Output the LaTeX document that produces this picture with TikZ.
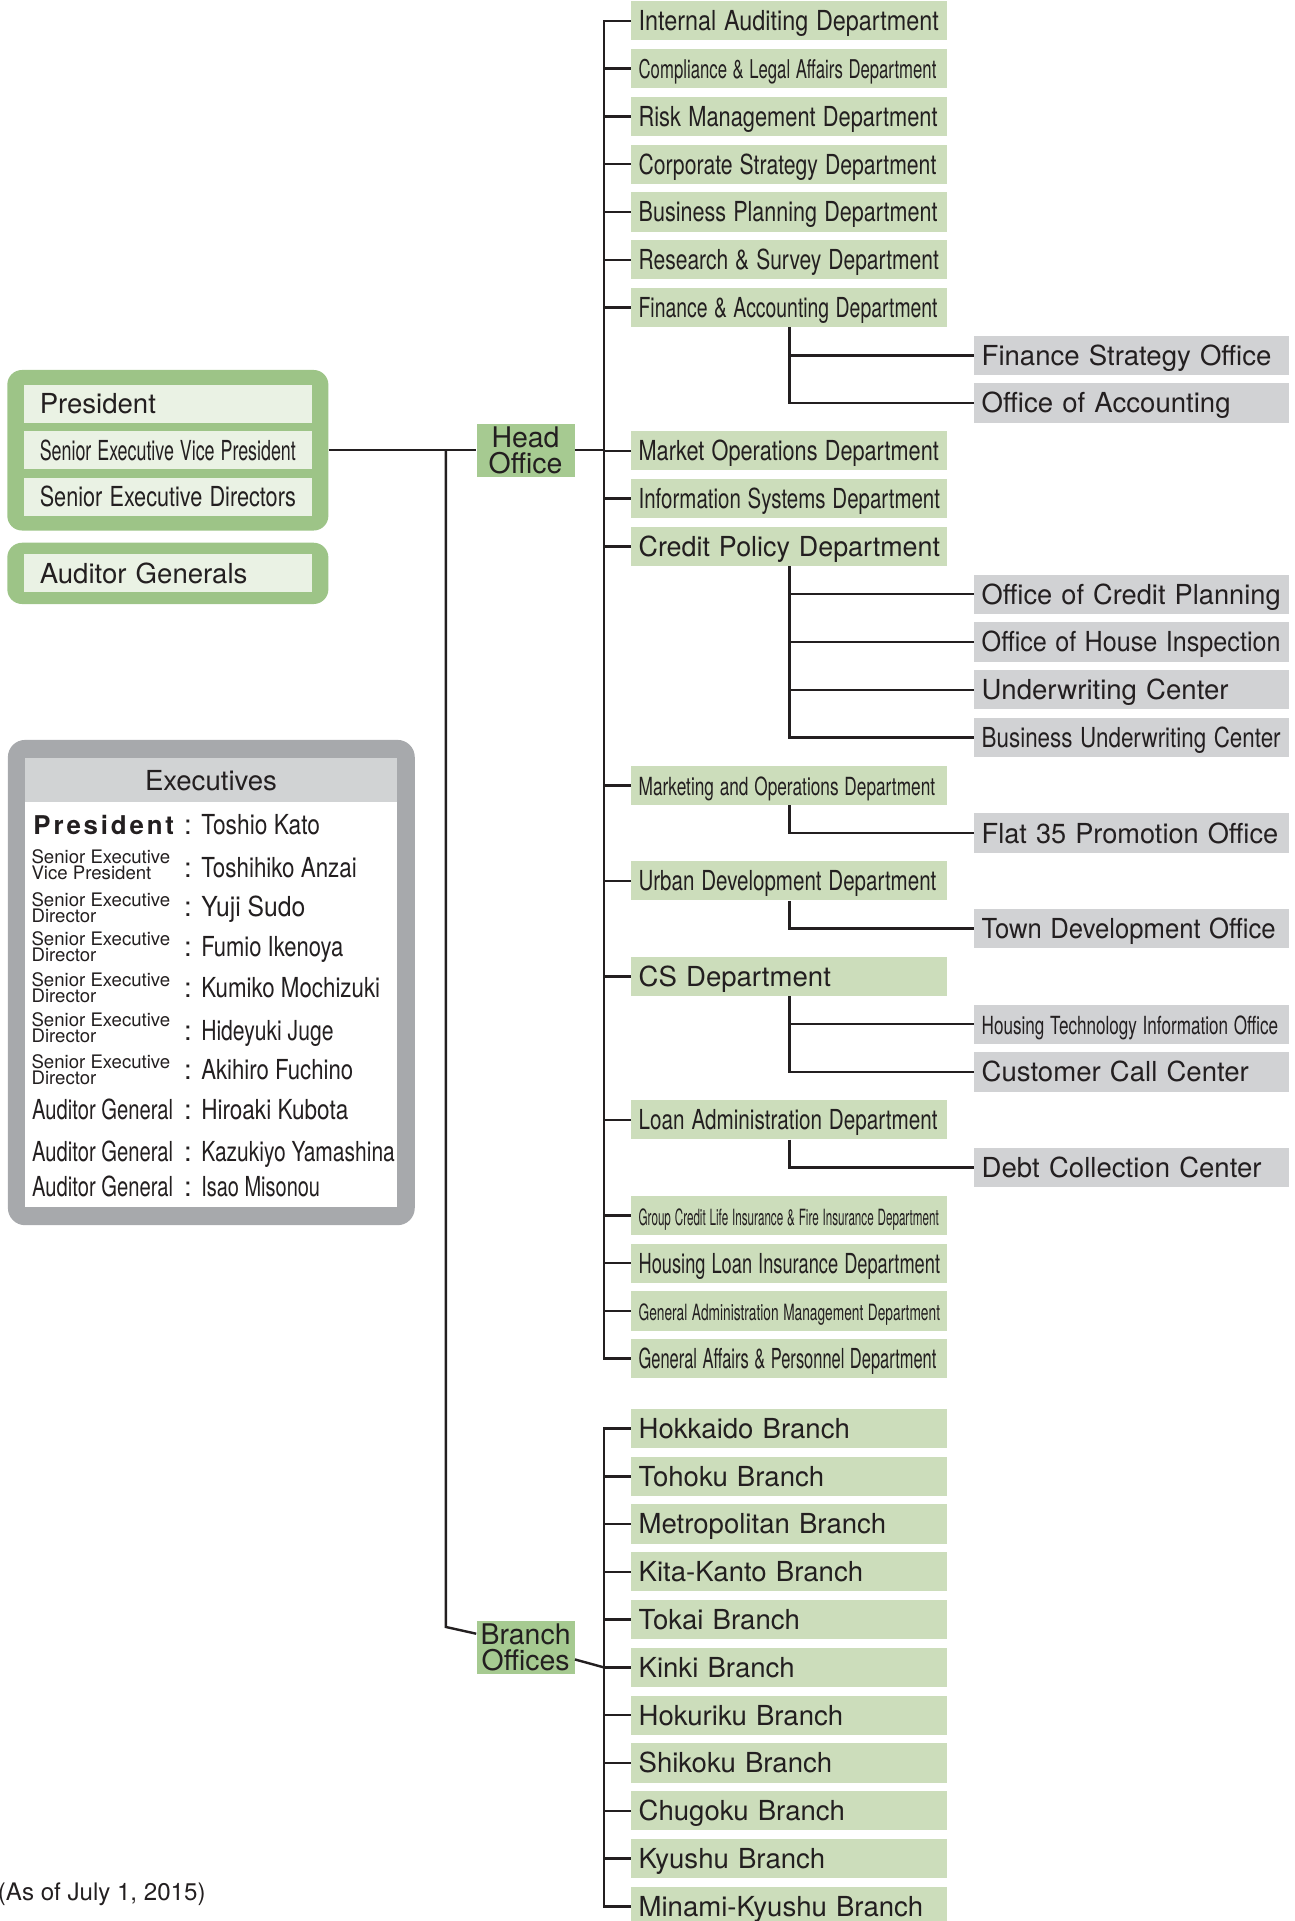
\documentclass[tikz,border=0pt]{standalone}
\usepackage{graphicx}
\usepackage{fontspec}
\setmainfont{TeX Gyre Heros}
\newfontfamily\spacedfont[LetterSpace=11]{TeX Gyre Heros}
\usetikzlibrary{calc}

\definecolor{ink}{HTML}{231F20}
\definecolor{deptgreen}{HTML}{CCDDBB}
\definecolor{hubgreen}{HTML}{A6CA91}
\definecolor{grpgreen}{HTML}{9DC487}
\definecolor{rowgreen}{HTML}{EAF2E4}
\definecolor{officegray}{HTML}{D1D2D4}
\definecolor{execgray}{HTML}{A7A9AC}
\definecolor{headgray}{HTML}{D1D3D4}

\newcommand\labfont{\fontsize{16}{18}\selectfont}
\newlength\fitlen
% squeeze a label to a width given in picture units
\newcommand\fitto[2]{\settowidth\fitlen{#2}\pgfmathsetmacro\fitfac{min(1,#1*0.7113/\fitlen)}\scalebox{\fitfac}[1]{#2}}

\tikzset{
  conn/.style={draw=ink, line width=1.4pt},
  unitbox/.style={anchor=west, inner xsep=0.15cm, inner ysep=0pt, minimum height=0.8cm,
    text width=6.15cm, align=left, text height=11.5pt, text depth=0pt, font=\labfont, text=ink},
  dept/.style={unitbox, fill=deptgreen},
  office/.style={unitbox, fill=officegray, text width=6.125cm},
  hub/.style={fill=hubgreen, minimum width=2cm, minimum height=1.075cm, inner sep=0pt,
    align=center, font=\fontsize{16.5}{15}\selectfont, text=ink},
  grpbox/.style={fill=grpgreen, rounded corners=0.3cm, inner sep=0pt},
  grprow/.style={fill=rowgreen, minimum width=5.875cm, minimum height=0.775cm, inner xsep=0.325cm,
    inner ysep=0pt, text width=5.225cm, align=left, text height=11.5pt, text depth=0pt,
    font=\labfont, text=ink},
  exlab/.style={anchor=base west, inner sep=0pt, font=\labfont, text=ink},
  exsmall/.style={anchor=west, inner sep=0pt, align=left, font=\fontsize{10.8}{9.4}\selectfont, text=ink}
}

\begin{document}
\begin{tikzpicture}[x=0.025cm,y=-0.025cm]
\useasboundingbox (0,0) rectangle (1057,1568);

% top management
\node (topgrp) [grpbox, minimum width=6.55cm, minimum height=3.275cm] at (137,367.5) {};
\node (gPres) [grprow] at (137,329.5) {President};
\node (gSEVP) [grprow] at (137,367.5) {\fitto{209}{Senior Executive Vice President}};
\node (gSED)  [grprow] at (137,405.5) {\fitto{209}{Senior Executive Directors}};
\node (audgrp) [grpbox, minimum width=6.55cm, minimum height=1.25cm] at (137,468) {};
\node (gAud)  [grprow] at (137,468) {Auditor Generals};

% executives list
\node (execbox) [fill=execgray, rounded corners=0.35cm, inner sep=0pt, minimum width=8.3cm, minimum height=9.9cm] at (172.5,802) {};
\node (execbody) [fill=white, inner sep=0pt, minimum width=7.5875cm, minimum height=8.25cm] at (172.25,820) {};
\node (exechead) [fill=headgray, inner sep=0pt, minimum width=7.5875cm, minimum height=0.9cm, font=\labfont, text=ink] at (172.25,637) {Executives};
\node (rPres) [exlab, font={\spacedfont\bfseries\fontsize{15}{18}\selectfont}] at (27,681) {President};
\node (rSEVP) [exsmall] at (25.5,706) {Senior Executive\\Vice President};
\node (rSED1) [exsmall] at (25.5,741) {Senior Executive\\Director};
\node (rSED2) [exsmall] at (25.5,773) {Senior Executive\\Director};
\node (rSED3) [exsmall] at (25.5,806) {Senior Executive\\Director};
\node (rSED4) [exsmall] at (25.5,839) {Senior Executive\\Director};
\node (rSED5) [exsmall] at (25.5,873) {Senior Executive\\Director};
\node (rAG1) [exlab] at (26,914) {\fitto{115}{Auditor General}};
\node (rAG2) [exlab] at (26,948) {\fitto{115}{Auditor General}};
\node (rAG3) [exlab] at (26,977) {\fitto{115}{Auditor General}};
\node (nPres) [exlab] at (150,681) {:\hspace{5.5pt}\fitto{97}{Toshio Kato}};
\node (nSEVP) [exlab] at (150,716) {:\hspace{5.5pt}\fitto{127}{Toshihiko Anzai}};
\node (nSED1) [exlab] at (150,748) {:\hspace{5.5pt}\fitto{85}{Yuji Sudo}};
\node (nSED2) [exlab] at (150,781) {:\hspace{5.5pt}\fitto{116}{Fumio Ikenoya}};
\node (nSED3) [exlab] at (150,814) {:\hspace{5.5pt}\fitto{146}{Kumiko Mochizuki}};
\node (nSED4) [exlab] at (150,849) {:\hspace{5.5pt}\fitto{108}{Hideyuki Juge}};
\node (nSED5) [exlab] at (150,881) {:\hspace{5.5pt}\fitto{124}{Akihiro Fuchino}};
\node (nAG1) [exlab] at (150,914) {:\hspace{5.5pt}\fitto{120}{Hiroaki Kubota}};
\node (nAG2) [exlab] at (150,948) {:\hspace{5.5pt}\fitto{158}{Kazukiyo Yamashina}};
\node (nAG3) [exlab] at (150,977) {:\hspace{5.5pt}\fitto{97}{Isao Misonou}};

% hubs
\node (hoff) [hub] at (429,367.5) {Head\\Office};
\node (boff) [hub] at (429,1344.5) {Branch\\Offices};

% head office departments
\node (d1)  [dept] at (515,17)   {\fitto{245}{Internal Auditing Department}};
\node (d2)  [dept, font=\fontsize{15}{18}\selectfont] at (515,56) {\fitto{243}{Compliance \& Legal Affairs Department}};
\node (d3)  [dept] at (515,95)   {\fitto{244}{Risk Management Department}};
\node (d4)  [dept] at (515,134)  {\fitto{243}{Corporate Strategy Department}};
\node (d5)  [dept] at (515,173)  {\fitto{244}{Business Planning Department}};
\node (d6)  [dept] at (515,212)  {\fitto{245}{Research \& Survey Department}};
\node (d7)  [dept] at (515,251)  {\fitto{244}{Finance \& Accounting Department}};
\node (d8)  [dept] at (515,368)  {\fitto{245}{Market Operations Department}};
\node (d9)  [dept] at (515,407)  {\fitto{246}{Information Systems Department}};
\node (d10) [dept] at (515,446)  {\fitto{246}{Credit Policy Department}};
\node (d11) [dept, font=\fontsize{14.5}{18}\selectfont] at (515,641) {\fitto{242}{Marketing and Operations Department}};
\node (d12) [dept] at (515,719)  {\fitto{243}{Urban Development Department}};
\node (d13) [dept] at (515,797)  {CS Department};
\node (d14) [dept] at (515,914)  {\fitto{244}{Loan Administration Department}};
\node (d15) [dept, font=\fontsize{13}{18}\selectfont] at (515,992) {\fitto{245}{Group Credit Life Insurance \& Fire Insurance Department}};
\node (d16) [dept] at (515,1031) {\fitto{246}{Housing Loan Insurance Department}};
\node (d17) [dept, font=\fontsize{13}{18}\selectfont] at (515,1070) {\fitto{246}{General Administration Management Department}};
\node (d18) [dept] at (515,1109) {\fitto{243}{General Affairs \& Personnel Department}};

% offices under departments
\node (s1)  [office] at (795,290) {Finance Strategy Office};
\node (s2)  [office] at (795,329) {Office of Accounting};
\node (s3)  [office] at (795,485) {\fitto{244}{Office of Credit Planning}};
\node (s4)  [office] at (795,524) {\fitto{244}{Office of House Inspection}};
\node (s5)  [office] at (795,563) {Underwriting Center};
\node (s6)  [office] at (795,602) {\fitto{244}{Business Underwriting Center}};
\node (s7)  [office] at (795,680) {\fitto{242}{Flat 35 Promotion Office}};
\node (s8)  [office] at (795,758) {\fitto{240}{Town Development Office}};
\node (s9)  [office, font=\fontsize{14.5}{18}\selectfont] at (795,836) {\fitto{242}{Housing Technology Information Office}};
\node (s10) [office] at (795,875) {Customer Call Center};
\node (s11) [office] at (795,953) {Debt Collection Center};

% branches
\node (b1)  [dept] at (515,1166) {Hokkaido Branch};
\node (b2)  [dept] at (515,1205) {Tohoku Branch};
\node (b3)  [dept] at (515,1244) {Metropolitan Branch};
\node (b4)  [dept] at (515,1283) {Kita-Kanto Branch};
\node (b5)  [dept] at (515,1322) {Tokai Branch};
\node (b6)  [dept] at (515,1361) {Kinki Branch};
\node (b7)  [dept] at (515,1400) {Hokuriku Branch};
\node (b8)  [dept] at (515,1439) {Shikoku Branch};
\node (b9)  [dept] at (515,1478) {Chugoku Branch};
\node (b10) [dept] at (515,1517) {Kyushu Branch};
\node (b11) [dept] at (515,1556) {Minami-Kyushu Branch};

\node (asof) [anchor=west, inner sep=0pt, font=\fontsize{14}{16}\selectfont, text=ink] at (-2,1546) {(As of July 1, 2015)};

% connectors
\coordinate (dbus) at (493,0);
\coordinate (mbend) at (364,1328);
\draw [conn] (topgrp.east) -- (hoff.west);
\draw [conn] (topgrp.east -| mbend) -- (mbend) -- ($(boff.west)+(0,-11)$);
\draw [conn] (hoff.east) -- (hoff.east -| dbus);
\draw [conn] (d1.west) -- (d1.west -| dbus) -- (d18.west -| dbus) -- (d18.west);
\foreach \n in {2,...,17} \draw [conn] (d\n.west) -- (d\n.west -| dbus);
\foreach \d/\s in {7/1,7/2,10/3,10/4,10/5,10/6,11/7,12/8,13/9,13/10,14/11}
  \draw [conn] (d\d.south) |- (s\s.west);
\draw [conn] (b1.west) -- (b1.west -| dbus) -- (b11.west -| dbus) -- (b11.west);
\foreach \n in {2,...,10} \draw [conn] (b\n.west) -- (b\n.west -| dbus);
\draw [conn] ($(boff.east)+(0,10)$) -- (b6.west -| dbus);
\end{tikzpicture}
\end{document}
